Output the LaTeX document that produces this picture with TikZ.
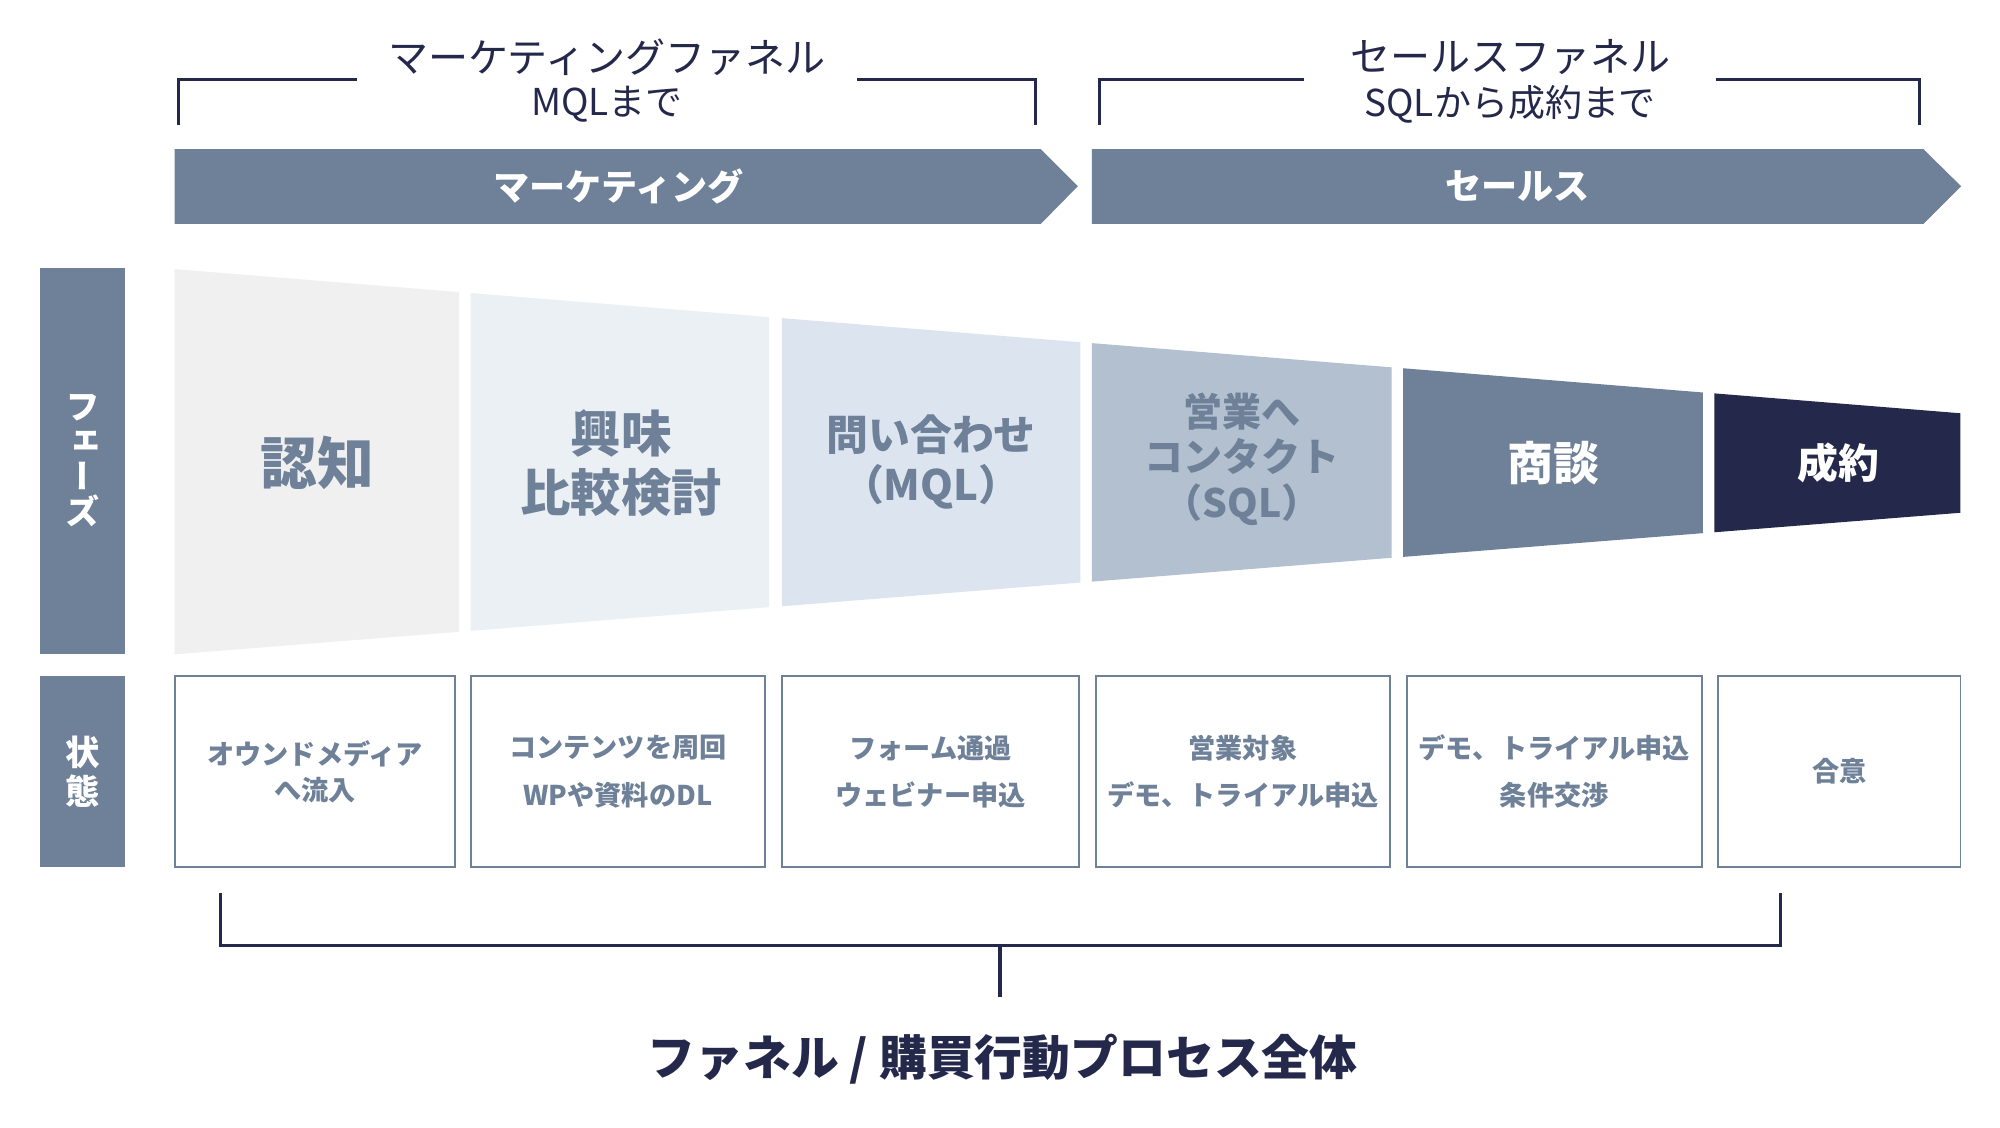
\documentclass[tikz,border=0pt]{standalone}
\usepackage{fontspec}
\newfontfamily\jp{Noto Sans CJK JP}
\newfontfamily\jpv[RawFeature=+vert]{Noto Sans CJK JP}
\definecolor{navy}{HTML}{24284A}
\definecolor{slate}{HTML}{6E8198}
\definecolor{segA}{HTML}{F0F0F0}
\definecolor{segB}{HTML}{EBF0F5}
\definecolor{segC}{HTML}{DCE5EF}
\definecolor{segD}{HTML}{B3C0CF}
\definecolor{segE}{HTML}{6E8198}
\definecolor{segF}{HTML}{24284A}
\tikzset{
  titletxt/.style={font=\jp\fontsize{31.4}{36}\selectfont, text=navy, inner sep=0pt},
  subtxt/.style={font=\jp\fontsize{29}{32}\selectfont, text=navy, inner sep=0pt},
  bracketline/.style={draw=navy, line width=2.4pt},
  banner/.style={fill=slate},
  bannertxt/.style={font=\jp\bfseries\fontsize{28.3}{30}\selectfont, text=white, inner sep=0pt},
  segtxt/.style={font=\jp\bfseries, text=slate, align=center, inner sep=0pt},
  segwhite/.style={font=\jp\bfseries, text=white, align=center, inner sep=0pt},
  labelbar/.style={fill=slate, inner sep=0pt},
  statebox/.style={draw=slate, line width=1.5pt, fill=white, minimum height=150pt, inner sep=0pt,
     font=\jp\bfseries\fontsize{21.3}{37}\selectfont, text=slate, align=center},
  bottomtxt/.style={font=\jp\bfseries\fontsize{37.5}{40}\selectfont, text=navy, inner sep=0pt},
}
\begin{document}
\begin{tikzpicture}[x=1pt,y=-1pt]
\useasboundingbox (0,0) rectangle (1568,884);
\fill[white] (0,0) rectangle (1568,884);

% top titles
\node[titletxt] (mfTitle) at (476,45) {マーケティングファネル};
\node[subtxt] (mfSub) at (476,82) {MQLまで};
\node[titletxt] (sfTitle) at (1184,45) {セールスファネル};
\node[subtxt] (sfSub) at (1184,82) {SQLから成約まで};

% top brackets
\draw[bracketline] (140,98) -- (140,62) -- (280,62);
\draw[bracketline] (672,62) -- (812,62) -- (812,98);
\draw[bracketline] (862,98) -- (862,62) -- (1022,62);
\draw[bracketline] (1345,62) -- (1505,62) -- (1505,98);

% banners
\fill[banner] (137,117) -- (816,117) -- (845,146) -- (816,175.5) -- (137,175.5) -- cycle;
\node[bannertxt] (mkt) at (485,146) {マーケティング};
\fill[banner] (856,117) -- (1508,117) -- (1537.5,146) -- (1508,175.5) -- (856,175.5) -- cycle;
\node[bannertxt] (sales) at (1190,146) {セールス};

% label bars
\fill[labelbar] (31,210) rectangle (98,513);
\node[font=\jpv\bfseries\fontsize{27}{27.5}\selectfont, text=white, align=center, inner sep=0pt] (phase) at (64.5,361) {フ\\ェ\\ー\\ズ};
\fill[labelbar] (31,530) rectangle (98,680);
\node[font=\jp\bfseries\fontsize{27}{30}\selectfont, text=white, align=center, inner sep=0pt] (state) at (64.5,605) {状\\態};

% funnel segments
\fill[segA] (137,211) -- (360,229.0) -- (360,495.3) -- (137,513) -- cycle;
\fill[segB] (369,229.7) -- (603,248.6) -- (603,476.0) -- (369,494.6) -- cycle;
\fill[segC] (613,249.4) -- (847,268.3) -- (847,456.7) -- (613,475.3) -- cycle;
\fill[segD] (856,269.0) -- (1091,288.0) -- (1091,437.3) -- (856,456.0) -- cycle;
\fill[segE] (1100,288.7) -- (1335,307.7) -- (1335,418.0) -- (1100,436.6) -- cycle;
\fill[segF] (1344,308.4) -- (1537,324) -- (1537,402) -- (1344,417.3) -- cycle;

\node[segtxt, font=\jp\bfseries\fontsize{44.5}{46}\selectfont] (s1) at (249,363) {認知};
\node[segtxt, font=\jp\bfseries\fontsize{39.5}{46}\selectfont] (s2) at (487,363) {興味\\比較検討};
\node[segtxt, font=\jp\bfseries\fontsize{32.8}{39}\selectfont] (s3) at (730,362) {問い合わせ\\（MQL）};
\node[segtxt, font=\jp\bfseries\fontsize{30.6}{35.5}\selectfont] (s4) at (974,360) {営業へ\\コンタクト\\（SQL）};
\node[segwhite, font=\jp\bfseries\fontsize{36}{40}\selectfont] (s5) at (1218,363) {商談};
\node[segwhite, font=\jp\bfseries\fontsize{32}{40}\selectfont] (s6) at (1441,363) {成約};

% state boxes
\node[statebox, minimum width=220pt, font=\jp\bfseries\fontsize{21.3}{28}\selectfont] (b1) at (247,605) {オウンドメディア\\へ流入};
\node[statebox, minimum width=231pt] (b2) at (484.5,605) {コンテンツを周回\\WPや資料のDL};
\node[statebox, minimum width=233pt] (b3) at (729.5,605) {フォーム通過\\ウェビナー申込};
\node[statebox, minimum width=231pt] (b4) at (974.5,605) {営業対象\\デモ、トライアル申込};
\node[statebox, minimum width=231pt] (b5) at (1218.5,605) {デモ、トライアル申込\\条件交渉};
\node[statebox, minimum width=190pt] (b6) at (1442,605) {合意};

% bottom bracket
\coordinate (bl) at (173,700);
\coordinate (br) at (1396,700);
\coordinate (bm) at (784,741);
\node[bottomtxt] (whole) at (786,830) {ファネル / 購買行動プロセス全体};
\draw[bracketline] (bl) -- (bl |- bm) -- (br |- bm) -- (br);
\draw[bracketline] (bm) -- (784,782);
\end{tikzpicture}
\end{document}
